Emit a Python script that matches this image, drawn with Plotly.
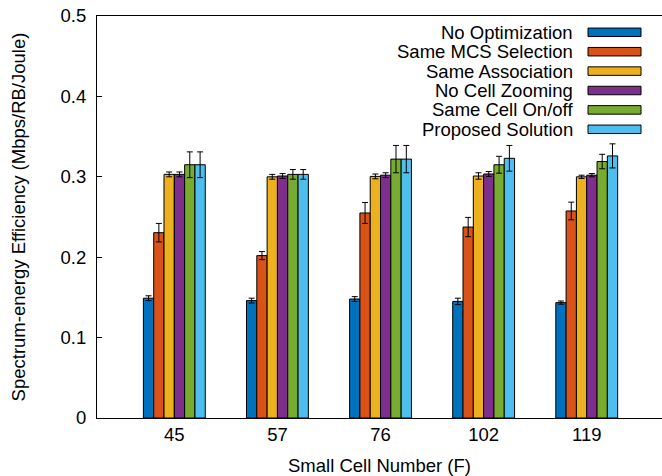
import plotly.graph_objects as go

categories = ["45", "57", "76", "102", "119"]
series_names = ["No Optimization", "Same MCS Selection", "Same Association",
                "No Cell Zooming", "Same Cell On/off", "Proposed Solution"]
colors = ["#0072BD", "#D95319", "#EDB120", "#7E2F8E", "#77AC30", "#4DBEEE"]

no_opt = [0.149, 0.146, 0.148, 0.145, 0.1435]
same_mcs = [0.2305, 0.202, 0.255, 0.2375, 0.2575]
same_assoc = [0.303, 0.300, 0.3005, 0.301, 0.300]
no_zoom = [0.303, 0.301, 0.302, 0.3035, 0.302]
same_onoff = [0.315, 0.303, 0.322, 0.315, 0.319]
proposed = [0.315, 0.303, 0.322, 0.323, 0.326]

err_no_opt = [0.003, 0.003, 0.003, 0.004, 0.002]
err_same_mcs = [0.0115, 0.005, 0.013, 0.012, 0.011]
err_same_assoc = [0.003, 0.003, 0.003, 0.004, 0.002]
err_no_zoom = [0.003, 0.003, 0.003, 0.003, 0.002]
err_same_onoff = [0.016, 0.006, 0.017, 0.0105, 0.009]
err_proposed = [0.016, 0.006, 0.017, 0.016, 0.015]

values = [no_opt, same_mcs, same_assoc, no_zoom, same_onoff, proposed]
errors = [err_no_opt, err_same_mcs, err_same_assoc, err_no_zoom, err_same_onoff, err_proposed]

W, H = 662, 476
ML, MT, MB, MR = 97, 16, 58, 0
PW, PH = W - ML - MR, H - MT - MB

FONT = "Liberation Sans"
FS = 18.5
xpos = list(range(1, len(categories) + 1))

fig = go.Figure()
for name, col, v, e in zip(series_names, colors, values, errors):
    fig.add_trace(go.Bar(
        x=xpos, y=v, name=name, marker=dict(color=col, line=dict(color="black", width=1)),
        error_y=dict(type="data", array=e, color="black", thickness=1, width=3),
        showlegend=False,
    ))

# manual legend (text right-aligned, swatch to the right)
row_y0 = 32.3
row_dy = 19.4
text_right = 575
sw_x0, sw_x1, sw_h = 588, 641, 8.5
shapes = []
annotations = []
for i, (name, col) in enumerate(zip(series_names, colors)):
    yc = row_y0 + i * row_dy
    annotations.append(dict(
        xref="paper", yref="paper",
        x=(text_right - ML) / PW, y=1 - (yc - MT) / PH,
        xanchor="right", yanchor="middle", text=name, showarrow=False,
        font=dict(family=FONT, size=FS, color="black"),
    ))
    shapes.append(dict(
        type="rect", xref="paper", yref="paper",
        x0=(sw_x0 - ML) / PW, x1=(sw_x1 - ML) / PW,
        y0=1 - (yc - sw_h / 2 - MT) / PH, y1=1 - (yc + sw_h / 2 - MT) / PH,
        fillcolor=col, line=dict(color="black", width=1),
    ))

fig.update_layout(
    width=W, height=H,
    margin=dict(l=ML, r=MR, t=MT, b=MB, autoexpand=False),
    paper_bgcolor="white", plot_bgcolor="white",
    barmode="group", bargap=0.4, bargroupgap=0,
    font=dict(family=FONT, size=FS, color="black"),
    shapes=shapes, annotations=annotations,
    showlegend=False,
)
fig.update_xaxes(
    range=[0.25, 0.25 + PW / 103.1],
    tickmode="array", tickvals=xpos, ticktext=categories,
    ticks="", showgrid=False, zeroline=False,
    showline=True, linecolor="black", linewidth=1, mirror=True,
    title=dict(text="Small Cell Number (F)", standoff=14,
               font=dict(family=FONT, size=FS)),
    tickfont=dict(family=FONT, size=FS),
)
fig.update_yaxes(
    range=[0, 0.5], tickmode="array", tickvals=[0, 0.1, 0.2, 0.3, 0.4, 0.5],
    ticktext=["0", "0.1", "0.2", "0.3", "0.4", "0.5"],
    ticks="inside", ticklen=5, tickcolor="black",
    showgrid=False, zeroline=False,
    showline=True, linecolor="black", linewidth=1, mirror=False,
    ticklabelstandoff=6,
    title=dict(text="Spectrum-energy Efficiency (Mbps/RB/Joule)", standoff=30,
               font=dict(family=FONT, size=FS)),
    tickfont=dict(family=FONT, size=FS),
)

fig.write_html("out.html")
